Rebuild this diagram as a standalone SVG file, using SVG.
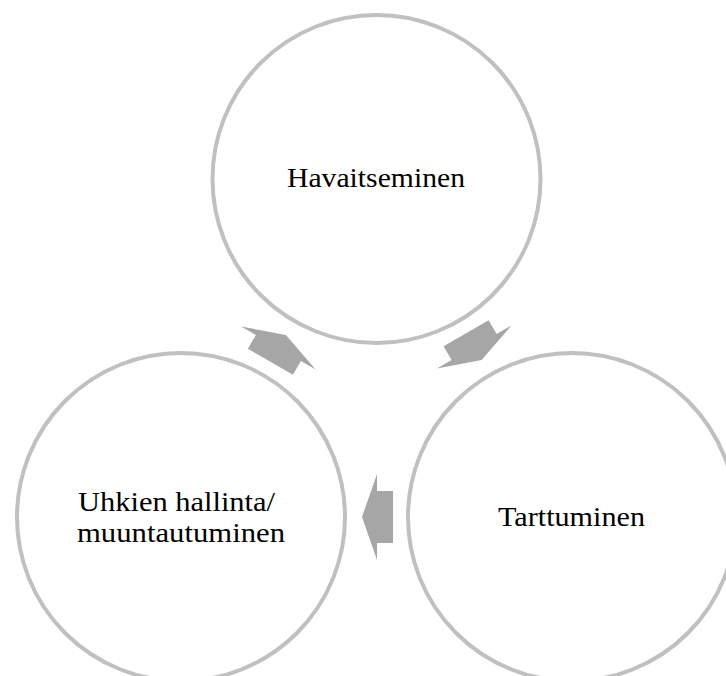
<svg xmlns="http://www.w3.org/2000/svg" width="726" height="676" viewBox="0 0 726 676">
  <style>
    .node circle { fill: #ffffff; stroke: #c0c0c0; stroke-width: 4; }
    .node text { font-family: "Liberation Serif", "Times New Roman", serif; font-size: 27px; fill: #000000; }
    .arrow { fill: #a6a6a6; stroke: none; }
  </style>
  <defs>
    <!-- block arrow pointing left, sitting below the cycle centre -->
    <polygon id="cycle-arrow" class="arrow" points="393,491 377,491 377,474 362,517 377,560 377,543 393,543"/>
  </defs>
  <rect width="726" height="676" fill="#ffffff"/>

  <g id="node-havaitseminen" class="node">
    <circle cx="376.5" cy="179" r="164"/>
    <text x="287" y="187" textLength="178" lengthAdjust="spacingAndGlyphs">Havaitseminen</text>
  </g>

  <g id="node-tarttuminen" class="node">
    <circle cx="572" cy="517" r="164"/>
    <text x="498" y="526" textLength="147" lengthAdjust="spacingAndGlyphs">Tarttuminen</text>
  </g>

  <g id="node-uhkien-hallinta" class="node">
    <circle cx="181" cy="517" r="164"/>
    <text x="78" y="511" textLength="197" lengthAdjust="spacingAndGlyphs">Uhkien hallinta/</text>
    <text x="77" y="542" textLength="208" lengthAdjust="spacingAndGlyphs">muuntautuminen</text>
  </g>

  <g id="connectors">
    <!-- Tarttuminen to Uhkien hallinta -->
    <use href="#cycle-arrow"/>
    <!-- Uhkien hallinta to Havaitseminen -->
    <use href="#cycle-arrow" transform="rotate(120 376.5 404)"/>
    <!-- Havaitseminen to Tarttuminen -->
    <use href="#cycle-arrow" transform="rotate(240 376.5 404)"/>
  </g>
</svg>
